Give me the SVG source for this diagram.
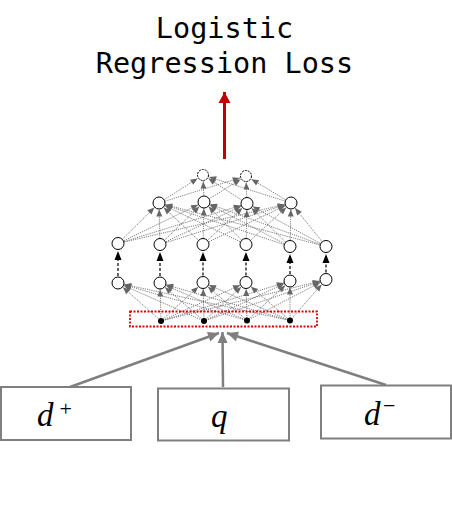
<svg xmlns="http://www.w3.org/2000/svg" width="452" height="506" viewBox="0 0 452 506">
<style>
.title{font-family:"DejaVu Sans Mono","Liberation Mono",monospace;font-size:28.5px;fill:#000}
.lbl{font-family:"Liberation Serif","DejaVu Serif",serif;font-style:italic;font-size:33px;fill:#000}
.sup{font-family:"Liberation Serif","DejaVu Serif",serif;font-size:22px;fill:#000}
.box{fill:#fff;stroke:#7f7f7f;stroke-width:2}
.inarrow{stroke:#7f7f7f;stroke-width:2.5;fill:none}
.dense{stroke:#707070;stroke-width:0.9;stroke-dasharray:1.2,1;fill:none}
.vdash{stroke:#000;stroke-width:1.2;stroke-dasharray:3,2;fill:none}
.node{fill:#fff;stroke:#000;stroke-width:1}
.out{fill:#fff;stroke:#000;stroke-width:1;stroke-dasharray:2,1}
.dot{fill:#000}
</style>
<defs>
<marker id="ah" markerUnits="userSpaceOnUse" markerWidth="7" markerHeight="6" viewBox="0 0 7 6" refX="13.5" refY="3" orient="auto" overflow="visible">
<path d="M0,0 L7,3 L0,6 z" fill="#666"/>
</marker>
<marker id="ahb" markerUnits="userSpaceOnUse" markerWidth="7" markerHeight="9" viewBox="0 0 7 9" refX="7" refY="3.5" orient="auto" overflow="visible">
<path d="M0,0 L9,3.5 L0,7 z" fill="#000"/>
</marker>
<marker id="ahg" markerUnits="userSpaceOnUse" markerWidth="12" markerHeight="12" viewBox="0 0 12 12" refX="11" refY="5" orient="auto" overflow="visible">
<path d="M0,0 L11,5 L0,10 z" fill="#7f7f7f"/>
</marker>
<marker id="ahr" markerUnits="userSpaceOnUse" markerWidth="12" markerHeight="12" viewBox="0 0 12 12" refX="11" refY="6" orient="auto" overflow="visible">
<path d="M0,0 L11,6 L0,12 z" fill="#c00000"/>
</marker>
</defs>

<g id="title">
<text class="title" x="224.5" y="38" text-anchor="middle">Logistic</text>
<text class="title" x="224.5" y="73" text-anchor="middle">Regression Loss</text>
</g>

<g id="connectors">
<line x1="224.5" y1="159" x2="224.5" y2="92" stroke="#c00000" stroke-width="3" marker-end="url(#ahr)"/>
<line class="inarrow" x1="70" y1="387" x2="219" y2="333" marker-end="url(#ahg)"/>
<line class="inarrow" x1="223" y1="387" x2="222.5" y2="332" marker-end="url(#ahg)"/>
<line class="inarrow" x1="386" y1="385" x2="227" y2="333" marker-end="url(#ahg)"/>
<g id="dots-to-l4" marker-end="url(#ah)">
<line class="dense" x1="161" y1="321" x2="118" y2="283"/><line class="dense" x1="161" y1="321" x2="160" y2="283"/><line class="dense" x1="161" y1="321" x2="203" y2="282.5"/><line class="dense" x1="161" y1="321" x2="246" y2="282.5"/><line class="dense" x1="161" y1="321" x2="290" y2="281"/><line class="dense" x1="161" y1="321" x2="326" y2="279.5"/>
<line class="dense" x1="204" y1="321" x2="118" y2="283"/><line class="dense" x1="204" y1="321" x2="160" y2="283"/><line class="dense" x1="204" y1="321" x2="203" y2="282.5"/><line class="dense" x1="204" y1="321" x2="246" y2="282.5"/><line class="dense" x1="204" y1="321" x2="290" y2="281"/><line class="dense" x1="204" y1="321" x2="326" y2="279.5"/>
<line class="dense" x1="247" y1="320.5" x2="118" y2="283"/><line class="dense" x1="247" y1="320.5" x2="160" y2="283"/><line class="dense" x1="247" y1="320.5" x2="203" y2="282.5"/><line class="dense" x1="247" y1="320.5" x2="246" y2="282.5"/><line class="dense" x1="247" y1="320.5" x2="290" y2="281"/><line class="dense" x1="247" y1="320.5" x2="326" y2="279.5"/>
<line class="dense" x1="290" y1="320.5" x2="118" y2="283"/><line class="dense" x1="290" y1="320.5" x2="160" y2="283"/><line class="dense" x1="290" y1="320.5" x2="203" y2="282.5"/><line class="dense" x1="290" y1="320.5" x2="246" y2="282.5"/><line class="dense" x1="290" y1="320.5" x2="290" y2="281"/><line class="dense" x1="290" y1="320.5" x2="326" y2="279.5"/>
</g>
<g id="l4-to-l3" marker-end="url(#ahb)">
<line class="vdash" x1="118" y1="276" x2="118" y2="253"/>
<line class="vdash" x1="160" y1="276" x2="160" y2="254"/>
<line class="vdash" x1="203" y1="275.5" x2="203" y2="254"/>
<line class="vdash" x1="246" y1="275.5" x2="246" y2="254"/>
<line class="vdash" x1="290" y1="274" x2="290" y2="256"/>
<line class="vdash" x1="326" y1="272.5" x2="326" y2="256"/>
</g>
<g id="l3-to-l2" marker-end="url(#ah)">
<line class="dense" x1="118" y1="243.5" x2="159" y2="203"/><line class="dense" x1="118" y1="243.5" x2="204" y2="202"/><line class="dense" x1="118" y1="243.5" x2="247" y2="203.5"/><line class="dense" x1="118" y1="243.5" x2="291" y2="203"/>
<line class="dense" x1="160" y1="244.5" x2="159" y2="203"/><line class="dense" x1="160" y1="244.5" x2="204" y2="202"/><line class="dense" x1="160" y1="244.5" x2="247" y2="203.5"/><line class="dense" x1="160" y1="244.5" x2="291" y2="203"/>
<line class="dense" x1="203" y1="244.5" x2="159" y2="203"/><line class="dense" x1="203" y1="244.5" x2="204" y2="202"/><line class="dense" x1="203" y1="244.5" x2="247" y2="203.5"/><line class="dense" x1="203" y1="244.5" x2="291" y2="203"/>
<line class="dense" x1="246" y1="244.5" x2="159" y2="203"/><line class="dense" x1="246" y1="244.5" x2="204" y2="202"/><line class="dense" x1="246" y1="244.5" x2="247" y2="203.5"/><line class="dense" x1="246" y1="244.5" x2="291" y2="203"/>
<line class="dense" x1="290" y1="246.5" x2="159" y2="203"/><line class="dense" x1="290" y1="246.5" x2="204" y2="202"/><line class="dense" x1="290" y1="246.5" x2="247" y2="203.5"/><line class="dense" x1="290" y1="246.5" x2="291" y2="203"/>
<line class="dense" x1="326" y1="246.5" x2="159" y2="203"/><line class="dense" x1="326" y1="246.5" x2="204" y2="202"/><line class="dense" x1="326" y1="246.5" x2="247" y2="203.5"/><line class="dense" x1="326" y1="246.5" x2="291" y2="203"/>
</g>
<g id="l2-to-out" marker-end="url(#ah)">
<line class="dense" x1="159" y1="203" x2="203" y2="175"/><line class="dense" x1="159" y1="203" x2="246" y2="176"/>
<line class="dense" x1="204" y1="202" x2="203" y2="175"/><line class="dense" x1="204" y1="202" x2="246" y2="176"/>
<line class="dense" x1="247" y1="203.5" x2="203" y2="175"/><line class="dense" x1="247" y1="203.5" x2="246" y2="176"/>
<line class="dense" x1="291" y1="203" x2="203" y2="175"/><line class="dense" x1="291" y1="203" x2="246" y2="176"/>
</g>
</g>

<g id="input-layer">
<rect x="130" y="311.5" width="187" height="15" fill="none" stroke="#e00000" stroke-width="1.8" stroke-dasharray="2,1.5"/>
<circle class="dot" cx="161" cy="321" r="3"/>
<circle class="dot" cx="204" cy="321" r="3"/>
<circle class="dot" cx="247" cy="320.5" r="3"/>
<circle class="dot" cx="290" cy="320.5" r="3"/>
</g>
<g id="layer4">
<circle class="node" cx="118" cy="283" r="6"/>
<circle class="node" cx="160" cy="283" r="6"/>
<circle class="node" cx="203" cy="282.5" r="6"/>
<circle class="node" cx="246" cy="282.5" r="6"/>
<circle class="node" cx="290" cy="281" r="6"/>
<circle class="node" cx="326" cy="279.5" r="6"/>
</g>
<g id="layer3">
<circle class="node" cx="118" cy="243.5" r="6"/>
<circle class="node" cx="160" cy="244.5" r="6"/>
<circle class="node" cx="203" cy="244.5" r="6"/>
<circle class="node" cx="246" cy="244.5" r="6"/>
<circle class="node" cx="290" cy="246.5" r="6"/>
<circle class="node" cx="326" cy="246.5" r="6"/>
</g>
<g id="layer2">
<circle class="node" cx="159" cy="203" r="6"/>
<circle class="node" cx="204" cy="202" r="6"/>
<circle class="node" cx="247" cy="203.5" r="6"/>
<circle class="node" cx="291" cy="203" r="6"/>
</g>
<g id="output-layer">
<circle class="out" cx="203" cy="175" r="5.5"/>
<circle class="out" cx="246" cy="176" r="5.5"/>
</g>

<g id="node-dpos">
<rect class="box" x="1" y="387" width="130" height="53"/>
<text class="lbl" x="37" y="426">d</text>
<text class="sup" x="59.5" y="416">+</text>
</g>
<g id="node-q">
<rect class="box" x="158" y="388.5" width="131" height="52"/>
<text class="lbl" x="211" y="427">q</text>
</g>
<g id="node-dneg">
<rect class="box" x="321" y="385.5" width="130" height="53"/>
<text class="lbl" x="364" y="425">d</text>
<text class="sup" x="383" y="413">−</text>
</g>
</svg>
